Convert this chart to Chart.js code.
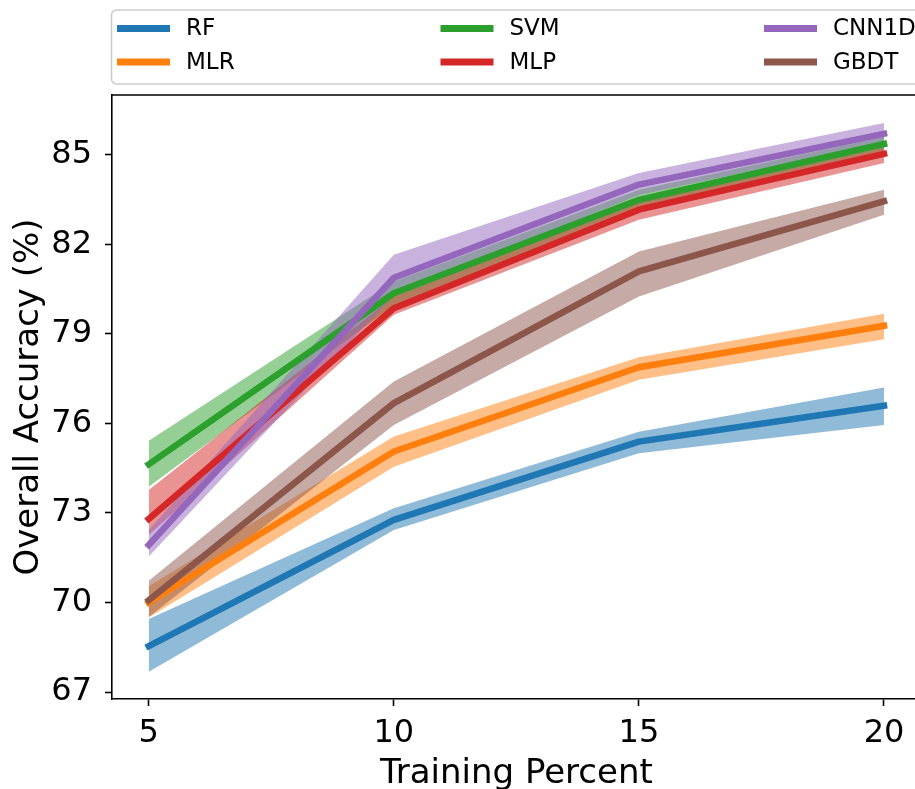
<!DOCTYPE html>
<html>
<head>
<meta charset="utf-8">
<script src="https://cdn.jsdelivr.net/npm/chart.js@4.4.1/dist/chart.umd.min.js"></script>
<style>
  html, body { margin: 0; padding: 0; background: #fff; overflow: hidden; }
  canvas { display: block; }
</style>
</head>
<body>
<canvas id="accuracyChart" width="925" height="789"></canvas>
<script>
const trainingPercents = [5, 10, 15, 20];
const xTickValues = [5, 10, 15, 20];
const yTickValues = [67, 70, 73, 76, 79, 82, 85];
const xTitle = "Training Percent";
const yTitle = "Overall Accuracy (%)";

const modelNames = ["RF", "MLR", "SVM", "MLP", "CNN1D", "GBDT"];
const modelColors = ["#1f77b4", "#ff7f0e", "#2ca02c", "#d62728", "#9467bd", "#8c564b"];

// Mean accuracy per model, plus the top / bottom of the shaded band
const rfMean = [68.54, 72.77, 75.39, 76.59];
const rfUpper = [69.45, 73.16, 75.72, 77.20];
const rfLower = [67.68, 72.43, 75.00, 75.95];

const mlrMean = [70.00, 75.06, 77.88, 79.27];
const mlrUpper = [70.55, 75.56, 78.22, 79.67];
const mlrLower = [69.50, 74.55, 77.46, 78.82];

const svmMean = [74.63, 80.36, 83.49, 85.36];
const svmUpper = [75.42, 80.75, 83.83, 85.60];
const svmLower = [73.88, 79.96, 83.20, 85.13];

const mlpMean = [72.80, 79.86, 83.16, 85.03];
const mlpUpper = [73.77, 80.25, 83.40, 85.25];
const mlpLower = [72.26, 79.64, 82.82, 84.72];

const cnnMean = [71.93, 80.88, 84.00, 85.70];
const cnnUpper = [72.43, 81.65, 84.39, 86.06];
const cnnLower = [71.54, 80.30, 83.65, 85.40];

const gbdtMean = [70.08, 76.68, 81.09, 83.44];
const gbdtUpper = [70.73, 77.40, 81.76, 83.83];
const gbdtLower = [69.52, 75.95, 80.25, 82.99];

const meanSeries = [rfMean, mlrMean, svmMean, mlpMean, cnnMean, gbdtMean];
const upperSeries = [rfUpper, mlrUpper, svmUpper, mlpUpper, cnnUpper, gbdtUpper];
const lowerSeries = [rfLower, mlrLower, svmLower, mlpLower, cnnLower, gbdtLower];

const fontFamily = "'DejaVu Sans', 'Liberation Sans', sans-serif";

const toPoints = (values) => trainingPercents.map((p, k) => ({ x: p, y: values[k] }));

const withAlpha = (hex, alpha) => {
    const n = parseInt(hex.slice(1), 16);
    return `rgba(${(n >> 16) & 255}, ${(n >> 8) & 255}, ${n & 255}, ${alpha})`;
};

// bands go under every line, drawn in model order; lines drawn on top in model order
const datasets = [];
modelNames.forEach((name, i) => {
    const base = datasets.length;
    datasets.push({
        label: name + " upper",
        data: toPoints(upperSeries[i]),
        borderWidth: 0,
        pointRadius: 0,
        fill: base + 1,
        backgroundColor: withAlpha(modelColors[i], 0.5),
        order: 200 - i
    });
    datasets.push({
        label: name + " lower",
        data: toPoints(lowerSeries[i]),
        borderWidth: 0,
        pointRadius: 0,
        fill: false,
        order: 200 - i
    });
    datasets.push({
        label: name,
        isMean: true,
        data: toPoints(meanSeries[i]),
        borderColor: modelColors[i],
        borderWidth: 6.5,
        borderCapStyle: "square",
        borderJoinStyle: "round",
        pointRadius: 0,
        fill: false,
        order: 100 - i
    });
});

// Top and right spines
const frameSpines = {
    id: "frameSpines",
    afterDatasetsDraw(chart) {
        const { ctx, chartArea } = chart;
        ctx.save();
        ctx.strokeStyle = "#000";
        ctx.lineWidth = 1.6;
        ctx.beginPath();
        ctx.moveTo(chartArea.left, chartArea.top);
        ctx.lineTo(chartArea.right, chartArea.top);
        ctx.lineTo(chartArea.right, chartArea.bottom);
        ctx.stroke();
        ctx.restore();
    }
};

// x tick labels and both axis titles, placed from the chart area
const axisText = {
    id: "axisText",
    afterDraw(chart) {
        const { ctx, chartArea } = chart;
        const xScale = chart.scales.x;
        ctx.save();
        ctx.fillStyle = "#000";
        ctx.textAlign = "center";
        ctx.textBaseline = "alphabetic";

        ctx.font = "32px " + fontFamily;
        xScale.ticks.forEach(t => {
            ctx.fillText(String(t.value), xScale.getPixelForValue(t.value), chartArea.bottom + 42.5);
        });

        ctx.font = "34px " + fontFamily;
        ctx.fillText(xTitle, (chartArea.left + chartArea.right) / 2, chartArea.bottom + 83.5);

        ctx.translate(38, (chartArea.top + chartArea.bottom) / 2);
        ctx.rotate(-Math.PI / 2);
        ctx.fillText(yTitle, 0, 0);
        ctx.restore();
    }
};

// Three-column legend above the axes, filled column by column
const boxLegend = {
    id: "boxLegend",
    afterDraw(chart) {
        const { ctx } = chart;
        const items = chart.data.datasets.filter(d => d.isMean);
        ctx.save();
        ctx.fillStyle = "rgba(255,255,255,0.8)";
        ctx.strokeStyle = "#cccccc";
        ctx.lineWidth = 1.5;
        ctx.beginPath();
        ctx.roundRect(111.5, 10, 830, 74, 5);
        ctx.fill();
        ctx.stroke();

        ctx.font = "23px " + fontFamily;
        ctx.textBaseline = "middle";
        ctx.textAlign = "left";
        items.forEach((item, k) => {
            const col = Math.floor(k / 2);
            const row = k % 2;
            const hx = 117 + col * 323.5;
            const hy = 28.5 + row * 33.5;
            ctx.strokeStyle = item.borderColor;
            ctx.lineWidth = 7;
            ctx.lineCap = "butt";
            ctx.beginPath();
            ctx.moveTo(hx, hy);
            ctx.lineTo(hx + 53, hy);
            ctx.stroke();
            ctx.fillStyle = "#000";
            ctx.fillText(item.label, hx + 69, hy + 1);
        });
        ctx.restore();
    }
};

new Chart(document.getElementById("accuracyChart"), {
    type: "line",
    data: { datasets: datasets },
    plugins: [frameSpines, axisText, boxLegend],
    options: {
        responsive: false,
        animation: false,
        layout: { padding: { left: 0, top: 95, right: 4.25, bottom: 0 } },
        plugins: {
            legend: { display: false },
            tooltip: { enabled: false }
        },
        scales: {
            x: {
                type: "linear",
                min: 4.25,
                max: 20.75,
                afterBuildTicks: (scale) => { scale.ticks = xTickValues.map(v => ({ value: v })); },
                afterFit: (scale) => { scale.height = 90; },
                grid: { drawOnChartArea: false, drawTicks: true, tickLength: 7, tickColor: "#000", tickWidth: 1.6 },
                border: { display: true, color: "#000", width: 1.6 },
                ticks: { display: false }
            },
            y: {
                min: 66.77,
                max: 87.0,
                afterBuildTicks: (scale) => { scale.ticks = yTickValues.map(v => ({ value: v })); },
                afterFit: (scale) => { scale.width = 112; },
                grid: { drawOnChartArea: false, drawTicks: true, tickLength: 7, tickColor: "#000", tickWidth: 1.6 },
                border: { display: true, color: "#000", width: 1.6 },
                ticks: {
                    color: "#000",
                    padding: 13,
                    autoSkip: false,
                    font: { family: fontFamily, size: 32 }
                }
            }
        }
    }
});
</script>
</body>
</html>
